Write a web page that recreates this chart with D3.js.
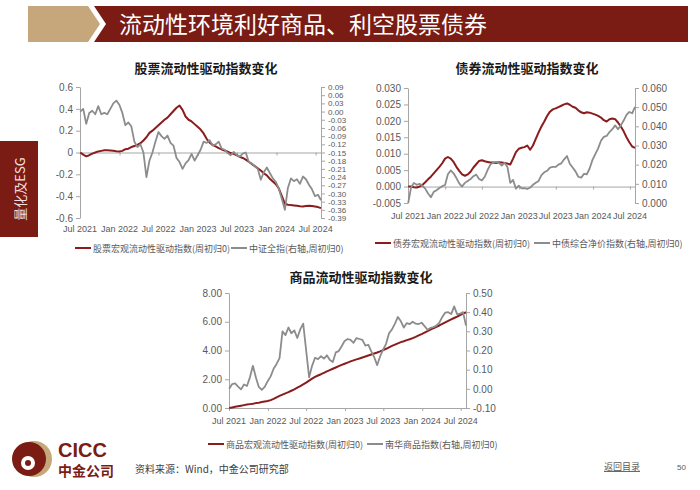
<!DOCTYPE html>
<html>
<head>
<meta charset="utf-8">
<script src="https://cdn.jsdelivr.net/npm/d3@7"></script>
<style>
  body { margin: 0; background: #fff; }
  svg { display: block; }
</style>
</head>
<body>
<svg id="slide" width="700" height="490"></svg>
<script>
// ---- data (biweekly samples starting 2 Jul 2021) ----
let pageTitle = "流动性环境利好商品、利空股票债券";
let xTickLabels = ["Jul 2021", "Jan 2022", "Jul 2022", "Jan 2023", "Jul 2023", "Jan 2024", "Jul 2024"];

let stockLiq = [0, -0.02, -0.035, -0.025, -0.01, 0, 0.01, 0.015, 0.02, 0.02,
    0.018, 0.015, 0.012, 0.01, 0.015, 0.03, 0.035, 0.05, 0.06, 0.07,
    0.085, 0.11, 0.14, 0.18, 0.2, 0.225, 0.25, 0.275, 0.3, 0.32,
    0.35, 0.38, 0.41, 0.43, 0.39, 0.33, 0.3, 0.285, 0.26, 0.235,
    0.21, 0.175, 0.125, 0.09, 0.07, 0.055, 0.04, 0.028, 0.018, 0.008,
    -0.005, -0.012, -0.025, -0.04, -0.05, -0.065, -0.085, -0.105, -0.125, -0.145,
    -0.165, -0.19, -0.21, -0.24, -0.265, -0.29, -0.33, -0.4, -0.47, -0.478,
    -0.482, -0.485, -0.488, -0.492, -0.494, -0.49, -0.488, -0.49, -0.495, -0.5,
    -0.51];
let csiAll = [0, 0.01, -0.045, -0.005, 0.003, -0.01, 0.02, -0.01, -0.005, -0.01,
    0.01, 0.03, 0.04, 0.025, -0.005, -0.05, -0.04, -0.055, -0.11, -0.13,
    -0.12, -0.15, -0.24, -0.18, -0.15, -0.11, -0.075, -0.09, -0.1, -0.088,
    -0.115, -0.125, -0.17, -0.185, -0.21, -0.19, -0.178, -0.155, -0.18, -0.16,
    -0.14, -0.11, -0.115, -0.105, -0.125, -0.12, -0.11, -0.136, -0.14, -0.152,
    -0.16, -0.148, -0.16, -0.165, -0.154, -0.15, -0.185, -0.19, -0.2, -0.21,
    -0.25, -0.222, -0.205, -0.225, -0.245, -0.258, -0.283, -0.32, -0.36, -0.28,
    -0.245, -0.255, -0.248, -0.265, -0.238, -0.248, -0.268, -0.285, -0.31, -0.305,
    -0.325];

let bondLiq = [0, 0, -0.0002, -0.0003, 0, 0.0005, 0.0013, 0.0022, 0.003, 0.004,
    0.005, 0.006, 0.0071, 0.0085, 0.009, 0.0085, 0.0075, 0.006, 0.0048, 0.0037,
    0.0033, 0.0037, 0.0045, 0.0058, 0.0068, 0.0078, 0.008, 0.0077, 0.0075, 0.0073,
    0.0073, 0.0072, 0.0074, 0.0073, 0.0072, 0.007, 0.0067, 0.0085, 0.0105, 0.0115,
    0.0118, 0.012, 0.0125, 0.0112, 0.0125, 0.0145, 0.0165, 0.0183, 0.0198, 0.0215,
    0.0228, 0.0235, 0.0238, 0.0242, 0.0246, 0.025, 0.0253, 0.0249, 0.0243, 0.024,
    0.0232, 0.0226, 0.0223, 0.0226, 0.0225, 0.0222, 0.0219, 0.0215, 0.021, 0.0202,
    0.0198, 0.0205, 0.0207, 0.0205, 0.0195, 0.0183, 0.0168, 0.015, 0.0135, 0.0122,
    0.0118];
let bondIdx = [0, 0.008, 0.0105, 0.0095, 0.01, 0.009, 0.0075, 0.005, 0.003, 0.0058,
    0.0067, 0.0078, 0.0088, 0.0094, 0.015, 0.017, 0.0155, 0.013, 0.0102, 0.0086,
    0.0105, 0.0115, 0.0125, 0.014, 0.0148, 0.0125, 0.0118, 0.0137, 0.0172, 0.02,
    0.0212, 0.0215, 0.021, 0.0195, 0.021, 0.0188, 0.0105, 0.012, 0.0075, 0.009,
    0.0076, 0.0078, 0.0073, 0.008, 0.0095, 0.0106, 0.0115, 0.0145, 0.016, 0.0168,
    0.0185, 0.0188, 0.0188, 0.02, 0.0207, 0.0228, 0.0245, 0.0205, 0.0185, 0.0165,
    0.0137, 0.0132, 0.0152, 0.015, 0.018, 0.0225, 0.0255, 0.0285, 0.0325, 0.0345,
    0.035, 0.037, 0.0385, 0.0405, 0.0385, 0.0405, 0.043, 0.046, 0.0475, 0.0468,
    0.0502];

let commLiq = [0, 0.04, 0.08, 0.12, 0.16, 0.2, 0.24, 0.27, 0.3, 0.34,
    0.37, 0.41, 0.45, 0.49, 0.55, 0.64, 0.74, 0.84, 0.93, 1.02,
    1.1, 1.2, 1.3, 1.41, 1.52, 1.64, 1.76, 1.9, 2.04, 2.16,
    2.26, 2.35, 2.45, 2.55, 2.64, 2.73, 2.82, 2.91, 3.0, 3.08,
    3.16, 3.24, 3.31, 3.38, 3.44, 3.51, 3.58, 3.65, 3.72, 3.79,
    3.86, 3.94, 4.03, 4.12, 4.22, 4.32, 4.41, 4.5, 4.58, 4.64,
    4.72, 4.78, 4.86, 4.95, 5.05, 5.14, 5.24, 5.35, 5.45, 5.55,
    5.64, 5.74, 5.85, 5.96, 6.06, 6.16, 6.26, 6.36, 6.47, 6.57,
    6.66];
let nanhua = [0, 0.025, 0.028, 0.012, -0.003, 0.023, 0.015, 0.06, 0.12, 0.06,
    0.01, -0.005, 0.01, 0.04, 0.065, 0.105, 0.13, 0.16, 0.3, 0.28,
    0.32, 0.29, 0.305, 0.265, 0.31, 0.34, 0.2, 0.06, 0.12, 0.162,
    0.155, 0.17, 0.158, 0.175, 0.15, 0.14, 0.19, 0.197, 0.222, 0.25,
    0.26, 0.255, 0.24, 0.265, 0.26, 0.255, 0.225, 0.23, 0.195, 0.165,
    0.124, 0.17, 0.205, 0.235, 0.29, 0.31, 0.34, 0.375, 0.352, 0.32,
    0.343, 0.338, 0.35, 0.34, 0.338, 0.345, 0.327, 0.308, 0.318, 0.322,
    0.33, 0.345, 0.375, 0.398, 0.4, 0.39, 0.43, 0.39, 0.392, 0.4,
    0.33];

// sample dates: every second Friday from 2 Jul 2021
let firstDate = new Date(2021, 6, 2);
let dates = stockLiq.map((d, i) => d3.timeDay.offset(firstDate, 14 * i));
let halfYears = [new Date(2021, 6, 1), new Date(2022, 0, 1), new Date(2022, 6, 1), new Date(2023, 0, 1),
    new Date(2023, 6, 1), new Date(2024, 0, 1), new Date(2024, 6, 1)];

let redColor = "#8a1c1c";
let grayColor = "#8c8c8c";
let axisColor = "#a6a6a6";
let labelColor = "#595959";
let cjk = "'Noto Sans CJK SC', sans-serif";
let latin = "'Liberation Sans', Arial, sans-serif";

function fixed(n) {
    return d => (d < 0 ? "-" : "") + Math.abs(d).toFixed(n);
}

let svg = d3.select("#slide");
svg.append("rect").attr("width", 700).attr("height", 490).attr("fill", "#fff");

// ---- header band ----
svg.append("polygon").attr("points", "28,6 88,6 100,24 88,42 28,42").attr("fill", "#c5a77b");
svg.append("polygon").attr("points", "94,6 688,6 688,42 94,42 106,24").attr("fill", "#7a1b14");
svg.append("text")
    .attr("x", 119).attr("y", 33)
    .attr("fill", "#fff")
    .style("font-family", cjk).style("font-size", "23px")
    .text(pageTitle);

// ---- side tab ----
svg.append("rect").attr("x", 0).attr("y", 141).attr("width", 38).attr("height", 96).attr("fill", "#7a1b14");
svg.append("text")
    .attr("transform", "translate(25,189) rotate(-90)")
    .attr("text-anchor", "middle")
    .attr("fill", "#f3dede")
    .style("font-family", cjk).style("font-size", "13px")
    .text("量化及ESG");

function styleAxis(sel, fontSize) {
    sel.select(".domain").attr("stroke", axisColor);
    sel.selectAll(".tick line").attr("stroke", axisColor);
    sel.selectAll(".tick text").attr("fill", labelColor)
        .style("font-family", latin).style("font-size", fontSize + "px");
}

function drawChart(o) {
    let g = svg.append("g");
    let x = d3.scaleTime().domain([new Date(2021, 6, 1), dates[dates.length - 1]]).range([o.x0, o.x1]);
    let yL = d3.scaleLinear().domain(o.leftDomain).range([o.y1, o.y0]);
    let yR = d3.scaleLinear().domain(o.rightDomain).range([o.y1, o.y0]);

    g.append("text")
        .attr("x", o.titleX).attr("y", o.titleY)
        .attr("text-anchor", "middle")
        .attr("fill", "#1a1a1a")
        .style("font-family", cjk).style("font-size", "13px").style("font-weight", "bold")
        .text(o.title);

    g.append("g")
        .attr("transform", "translate(" + o.x0 + ",0)")
        .call(d3.axisLeft(yL).tickValues(o.leftTicks).tickFormat(o.leftFmt).tickSize(4).tickSizeOuter(0))
        .call(s => styleAxis(s, 10));

    g.append("g")
        .attr("transform", "translate(" + o.x1 + ",0)")
        .call(d3.axisRight(yR).tickValues(o.rightTicks).tickFormat(o.rightFmt).tickSize(4).tickSizeOuter(0))
        .call(s => styleAxis(s, o.rightFont));

    // category axis line (at zero for the first two charts)
    g.append("g")
        .attr("transform", "translate(0," + yL(o.baseValue) + ")")
        .call(d3.axisBottom(x).tickValues(halfYears).tickFormat("").tickSize(3).tickSizeOuter(0))
        .call(s => styleAxis(s, 10));

    g.selectAll(".xlab")
        .data(halfYears)
        .join("text")
        .attr("x", (d) => x(d))
        .attr("y", o.labelY)
        .attr("text-anchor", "middle")
        .attr("fill", labelColor)
        .style("font-family", latin).style("font-size", "9px")
        .text((d, i) => xTickLabels[i]);

    let lineL = d3.line().x((d, i) => x(dates[i])).y(d => yL(d));
    let lineR = d3.line().x((d, i) => x(dates[i])).y(d => yR(d));

    g.append("path").datum(o.leftSeries)
        .attr("d", lineL).attr("fill", "none")
        .attr("stroke", redColor).attr("stroke-width", 2).attr("stroke-linejoin", "round");
    g.append("path").datum(o.rightSeries)
        .attr("d", lineR).attr("fill", "none")
        .attr("stroke", grayColor).attr("stroke-width", 1.8).attr("stroke-linejoin", "round");

    // legend
    let items = [
        {name: o.leftName, color: redColor, x: o.legendX[0]},
        {name: o.rightName, color: grayColor, x: o.legendX[1]}
    ];
    let leg = g.selectAll(".leg").data(items).join("g")
        .attr("transform", d => "translate(" + d.x + "," + o.legendY + ")");
    leg.append("line").attr("x1", 0).attr("x2", 16).attr("y1", 0).attr("y2", 0)
        .attr("stroke", d => d.color).attr("stroke-width", 2);
    leg.append("text").attr("x", 18).attr("y", 3.5)
        .attr("fill", labelColor)
        .style("font-family", cjk).style("font-size", "9px")
        .text(d => d.name);
}

let stockRightTicks = d3.range(17).map(k => +(0.09 - 0.03 * k).toFixed(2));

drawChart({
    title: "股票流动性驱动指数变化", titleX: 206, titleY: 73,
    x0: 80, x1: 321, y0: 87, y1: 218,
    leftDomain: [-0.6, 0.6], rightDomain: [-0.39, 0.09],
    leftTicks: [-0.6, -0.4, -0.2, 0, 0.2, 0.4, 0.6],
    leftFmt: d => d === 0 ? "0" : fixed(1)(d),
    rightTicks: stockRightTicks, rightFmt: fixed(2), rightFont: 8,
    baseValue: 0, labelY: 232,
    leftSeries: stockLiq, rightSeries: csiAll,
    leftName: "股票宏观流动性驱动指数(周初归0)", rightName: "中证全指(右轴,周初归0)",
    legendX: [75, 231], legendY: 248
});

drawChart({
    title: "债券流动性驱动指数变化", titleX: 527, titleY: 73,
    x0: 408, x1: 635, y0: 88, y1: 203,
    leftDomain: [-0.005, 0.03], rightDomain: [0, 0.06],
    leftTicks: [-0.005, 0, 0.005, 0.01, 0.015, 0.02, 0.025, 0.03],
    leftFmt: fixed(3),
    rightTicks: [0, 0.01, 0.02, 0.03, 0.04, 0.05, 0.06], rightFmt: fixed(3), rightFont: 10,
    baseValue: 0, labelY: 219,
    leftSeries: bondLiq, rightSeries: bondIdx,
    leftName: "债券宏观流动性驱动指数(周初归0)", rightName: "中债综合净价指数(右轴,周初归0)",
    legendX: [375, 534], legendY: 243
});

drawChart({
    title: "商品流动性驱动指数变化", titleX: 361, titleY: 282,
    x0: 229, x1: 466, y0: 293, y1: 408,
    leftDomain: [0, 8], rightDomain: [-0.1, 0.5],
    leftTicks: [0, 2, 4, 6, 8],
    leftFmt: fixed(2),
    rightTicks: [-0.1, 0, 0.1, 0.2, 0.3, 0.4, 0.5], rightFmt: fixed(2), rightFont: 10,
    baseValue: 0, labelY: 424,
    leftSeries: commLiq, rightSeries: nanhua,
    leftName: "商品宏观流动性驱动指数(周初归0)", rightName: "南华商品指数(右轴,周初归0)",
    legendX: [208, 367], legendY: 444
});

// ---- footer: logo, source, navigation ----
let logo = svg.append("g").attr("transform", "translate(31,459)");
logo.append("circle").attr("cx", 3).attr("cy", 0).attr("r", 18).attr("fill", "#c5a77b");
logo.append("circle").attr("cx", -2).attr("cy", 0).attr("r", 17).attr("fill", "#7a1b14");
logo.append("circle").attr("cx", -3).attr("cy", 4).attr("r", 7).attr("fill", "#fff");
logo.append("circle").attr("cx", -3).attr("cy", 4).attr("r", 3).attr("fill", "#7a1b14");

svg.append("text").attr("x", 58).attr("y", 457)
    .attr("fill", "#7a1b14")
    .style("font-family", latin).style("font-size", "20px").style("font-weight", "bold")
    .text("CICC");
svg.append("text").attr("x", 58).attr("y", 476)
    .attr("fill", "#7a1b14")
    .style("font-family", cjk).style("font-size", "14px").style("font-weight", "bold")
    .text("中金公司");
svg.append("text").attr("x", 135).attr("y", 473)
    .attr("fill", "#404040")
    .style("font-family", cjk).style("font-size", "10px")
    .text("资料来源：Wind，中金公司研究部");
svg.append("text").attr("x", 604).attr("y", 470)
    .attr("fill", labelColor)
    .style("font-family", cjk).style("font-size", "9px").style("text-decoration", "underline")
    .text("返回目录");
svg.append("text").attr("x", 677).attr("y", 470)
    .attr("fill", labelColor)
    .style("font-family", latin).style("font-size", "8px")
    .text("50");
</script>
</body>
</html>
